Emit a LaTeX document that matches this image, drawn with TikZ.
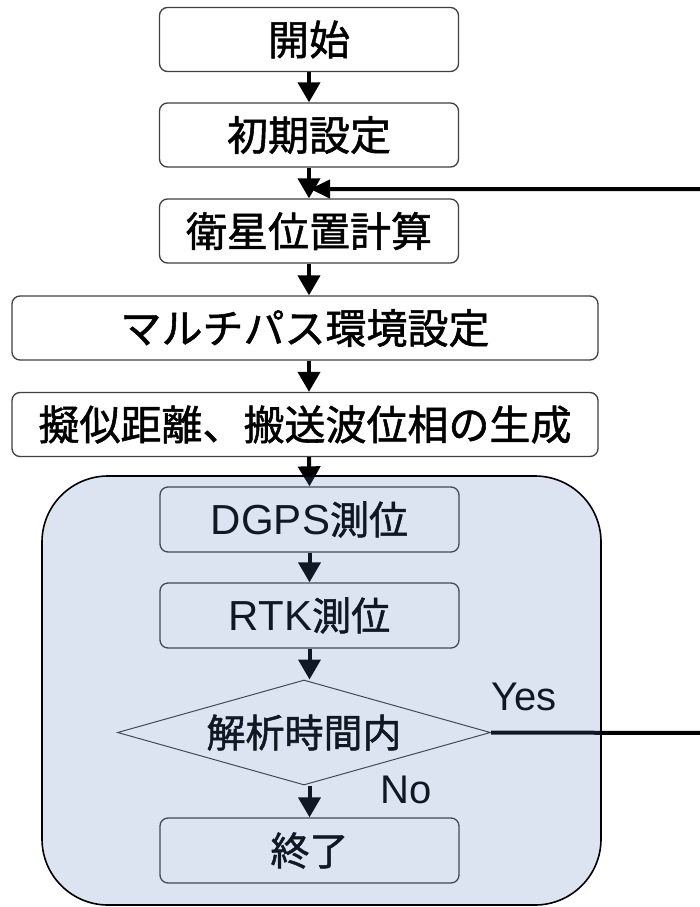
\documentclass[tikz,border=0pt]{standalone}
\usepackage{fontspec}
\newfontfamily\cjk[FakeBold=1.3]{Noto Sans CJK JP}
\newfontfamily\lat{Liberation Sans}
\usetikzlibrary{shapes.geometric,arrows.meta}
\definecolor{boxgray}{HTML}{3F3F3F}
\definecolor{overlay}{RGB}{77,120,179}
\begin{document}
\begin{tikzpicture}[x=1pt,y=-1pt,
  pbox/.style={draw=boxgray, line width=1.3pt, rounded corners=8pt, inner sep=0pt,
    minimum width=299pt, minimum height=64pt, font=\cjk\fontsize{41}{41}\selectfont},
  widebox/.style={pbox, minimum width=586pt},
  innerbox/.style={pbox, minimum height=65pt, font=\cjk\fontsize{39}{39}\selectfont},
  decision/.style={draw=boxgray, line width=1pt, shape=diamond, aspect=3.55, inner sep=0pt,
    minimum width=373pt, minimum height=105pt, font=\cjk\fontsize{39}{39}\selectfont},
  flow/.style={line width=4pt, -{Triangle[length=20pt,width=22pt]}},
  fbline/.style={line width=4pt, line join=miter, -{Triangle[length=20pt,width=18pt]}},
  lbl/.style={font=\lat\fontsize{40}{40}\selectfont, inner sep=0pt, anchor=base west},
  group/.style={draw=black, line width=1.6pt, fill=overlay, fill opacity=0.2, draw opacity=1,
    rounded corners=66pt, minimum width=559pt, minimum height=429pt, inner sep=0pt}
]
\useasboundingbox (0,0) rectangle (700,907);
\clip (0,0) rectangle (700,907);

\node[pbox] (start) at (309,39.5) {開始};
\node[pbox] (init) at (309,135) {初期設定};
\node[pbox] (sat) at (309,231) {衛星位置計算};
\node[widebox] (multi) at (305,328) {マルチパス環境設定};
\node[widebox] (pseudo) at (305,424.5) {擬似距離、搬送波位相の生成};
\node[innerbox] (dgps) at (309.5,519.5) {{\lat\fontsize{42}{42}\selectfont DGPS}測位};
\node[innerbox] (rtk) at (309.5,615.5) {{\lat\fontsize{42}{42}\selectfont RTK}測位};
\node[decision] (dec) at (304,732.5) {\raisebox{-3pt}{解析時間内}};
\node[innerbox] (end) at (309.5,850.5) {終了};

\coordinate (fb) at (310,189);
\coordinate (far) at (706,733);

\draw[flow] (start.south) -- (init.north);
\draw[flow] (init.south) -- (init.south |- sat.north);
\draw[flow] (sat.south) -- (sat.south |- multi.north);
\draw[flow] (sat.south |- multi.south) -- (sat.south |- pseudo.north);
\draw[flow] (sat.south |- pseudo.south) -- (dgps.north);
\draw[flow] (dgps.south) -- (rtk.north);
\draw[flow] (rtk.south) -- (rtk.south |- dec.north);
\draw[flow] (end.north |- dec.south) -- (end.north);
\draw[fbline] (dec.east) -- (far) -- (far |- fb) -- (fb);

\node[lbl] (yes) at (491,710) {Yes};
\node[lbl] (no) at (380,803) {No};

\node[group] (loop) at (321.5,690.5) {};
\end{tikzpicture}
\end{document}
